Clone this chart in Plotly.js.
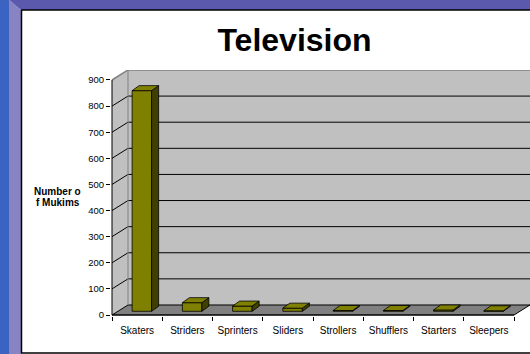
<!DOCTYPE html>
<html>
<head>
<meta charset="utf-8">
<script src="https://cdn.plot.ly/plotly-3.0.1.min.js"></script>
<style>html,body{margin:0;padding:0;background:#fff;}#chart{width:530px;height:354px;}</style>
</head>
<body>
<div id="chart"></div>
<script>
// ---- data ----
const categories = ['Skaters', 'Striders', 'Sprinters', 'Sliders', 'Strollers', 'Shufflers', 'Starters', 'Sleepers'];
const mukims = [845, 33, 20, 12, 3, 3, 5, 2];
const yTickValues = [0, 100, 200, 300, 400, 500, 600, 700, 800, 900];

// ---- geometry (pixel scale helpers) ----
const W = 530, H = 354;
const ML = 111, MT = 70, MB = 38.3, MR = 0;
const PXX = 50.25;      // px per category
const PXY = 0.2608;     // px per value unit
const plotW = W - ML - MR, plotH = H - MT - MB;
const XMIN = -0.5 - 1 / PXX, XMAX = XMIN + plotW / PXX;
const YMIN = -1 / PXY, YMAX = YMIN + plotH / PXY;
const DDX = 16 / PXX, DDY = 10 / PXY;          // wall depth
const BAR_OFF = -5 / PXX, BAR_W = 19.5 / PXX;  // bar front face
const BAR_BASE = 3.7 / PXY;                     // bar sits inside floor depth
const SDX = 7 / PXX, SDY = 5 / PXY;            // bar depth
const YTOP = yTickValues[yTickValues.length - 1];
const N = categories.length;
const xL = -0.5, xR = N - 0.5;
const idx = categories.map((c, i) => i);

const px = x => (x - ML) / plotW;
const py = y => (H - MB - y) / plotH;

function path(pts) {
  return 'M ' + pts.map(p => p[0] + ',' + p[1]).join(' L ') + ' Z';
}

const shapes = [];
// frame (paper)
shapes.push({type: 'path', xref: 'paper', yref: 'paper', layer: 'below', line: {width: 0}, fillcolor: '#3b63c1',
  path: path([[px(0), py(0)], [px(9), py(0)], [px(9), py(H)], [px(0), py(H)]])});
shapes.push({type: 'path', xref: 'paper', yref: 'paper', layer: 'below', line: {width: 0}, fillcolor: '#8884c3',
  path: path([[px(9), py(0)], [px(21), py(10)], [px(21), py(H)], [px(9), py(H)]])});
shapes.push({type: 'path', xref: 'paper', yref: 'paper', layer: 'below', line: {width: 0}, fillcolor: '#5a59ad',
  path: path([[px(9), py(0)], [px(W), py(0)], [px(W), py(10)], [px(21), py(10)]])});
shapes.push({type: 'line', xref: 'paper', yref: 'paper', layer: 'below', line: {color: '#000', width: 1.5},
  x0: px(21), y0: py(10), x1: px(W), y1: py(10)});
shapes.push({type: 'line', xref: 'paper', yref: 'paper', layer: 'below', line: {color: '#000', width: 1.5},
  x0: px(21.5), y0: py(10), x1: px(21.5), y1: py(353)});
shapes.push({type: 'line', xref: 'paper', yref: 'paper', layer: 'below', line: {color: '#000', width: 1.5},
  x0: px(21), y0: py(352.7), x1: px(W), y1: py(352.7)});

// walls (data coords)
shapes.push({type: 'path', xref: 'x', yref: 'y', layer: 'below', line: {width: 0}, fillcolor: '#c0c0c0',
  path: path([[xL + DDX, DDY], [XMAX, DDY], [XMAX, YTOP + DDY], [xL + DDX, YTOP + DDY]])});
shapes.push({type: 'path', xref: 'x', yref: 'y', layer: 'below', line: {width: 0}, fillcolor: '#c0c0c0',
  path: path([[xL, 0], [xL + DDX, DDY], [xL + DDX, YTOP + DDY], [xL, YTOP]])});
// floor
shapes.push({type: 'path', xref: 'x', yref: 'y', layer: 'below', line: {color: '#000', width: 1}, fillcolor: '#808080',
  path: path([[xL, 0], [xR, 0], [xR + DDX, DDY], [xL + DDX, DDY]])});
// gridlines
yTickValues.forEach(v => {
  if (v === 0) return;
  const top = v === YTOP;
  shapes.push({type: 'path', xref: 'x', yref: 'y', layer: 'below',
    line: {color: top ? '#808080' : '#000', width: top ? 1.5 : 1},
    path: 'M ' + xL + ',' + v + ' L ' + (xL + DDX) + ',' + (v + DDY) + ' L ' + XMAX + ',' + (v + DDY)});
});
// back wall left edge
shapes.push({type: 'line', xref: 'x', yref: 'y', layer: 'below', line: {color: '#808080', width: 1},
  x0: xL + DDX, y0: DDY, x1: xL + DDX, y1: YTOP + DDY});
// axis lines
shapes.push({type: 'line', xref: 'x', yref: 'y', layer: 'below', line: {color: '#000', width: 1},
  x0: xL, y0: 0, x1: xL, y1: YTOP});
shapes.push({type: 'line', xref: 'x', yref: 'y', layer: 'below', line: {color: '#000', width: 1},
  x0: xL, y0: 0, x1: xR, y1: 0});

// traces
const traces = [{
  type: 'bar', x: idx, y: mukims, base: BAR_BASE, width: BAR_W, offset: BAR_OFF,
  marker: {color: '#808000', line: {color: '#000', width: 0.8}},
  hoverinfo: 'skip', showlegend: false
}];
mukims.forEach((v, i) => {
  const x0 = i + BAR_OFF, x1 = x0 + BAR_W;
  const b = BAR_BASE, t = BAR_BASE + v;
  // side face
  traces.push({type: 'scatter', mode: 'lines', fill: 'toself', fillcolor: '#3f3f00',
    line: {color: '#000', width: 0.8}, hoverinfo: 'skip', showlegend: false,
    x: [x1, x1, x1 + SDX, x1 + SDX, x1], y: [b, t, t + SDY, b + SDY, b]});
  // top face
  traces.push({type: 'scatter', mode: 'lines', fill: 'toself', fillcolor: '#808000',
    line: {color: '#000', width: 0.8}, hoverinfo: 'skip', showlegend: false,
    x: [x0, x1, x1 + SDX, x0 + SDX, x0], y: [t, t, t + SDY, t + SDY, t]});
});

const font = 'Liberation Sans, Arial, sans-serif';
const layout = {
  width: W, height: H, autosize: false,
  margin: {l: ML, r: MR, t: MT, b: MB, pad: 0},
  paper_bgcolor: '#ffffff', plot_bgcolor: 'rgba(0,0,0,0)',
  showlegend: false,
  title: {text: '<b>Television</b>', font: {family: font, size: 32, color: '#000'},
    x: 294.5 / W, xref: 'container', xanchor: 'center', y: 1 - 40 / H, yref: 'container', yanchor: 'middle'},
  xaxis: {range: [XMIN, XMAX], tickmode: 'array', tickvals: idx, ticktext: categories,
    ticks: 'outside', ticklen: 5, tickcolor: 'rgba(0,0,0,0)', showgrid: false, zeroline: false, showline: false,
    tickfont: {family: font, size: 10, color: '#000'}, fixedrange: true,
    minor: {tickmode: 'array', tickvals: idx.concat([N]).map(i => i - 0.5), ticks: 'outside', ticklen: 4, tickcolor: '#000', tickwidth: 1, showgrid: false}},
  yaxis: {range: [YMIN, YMAX], tickmode: 'array', tickvals: yTickValues,
    ticks: 'outside', ticklen: 4, tickcolor: '#000', tickwidth: 1, showgrid: false, zeroline: false, showline: false,
    tickfont: {family: font, size: 9.5, color: '#000'}, fixedrange: true},
  shapes: shapes,
  annotations: [
    {text: '<b>Number o</b>', xref: 'paper', yref: 'paper', x: px(57.5), y: py(191.7), xanchor: 'center', yanchor: 'middle',
      showarrow: false, font: {family: font, size: 10, color: '#000'}},
    {text: '<b>f Mukims</b>', xref: 'paper', yref: 'paper', x: px(57.5), y: py(202.7), xanchor: 'center', yanchor: 'middle',
      showarrow: false, font: {family: font, size: 10, color: '#000'}}
  ]
};

Plotly.newPlot('chart', traces, layout, {displayModeBar: false, staticPlot: true});
</script>
</body>
</html>
